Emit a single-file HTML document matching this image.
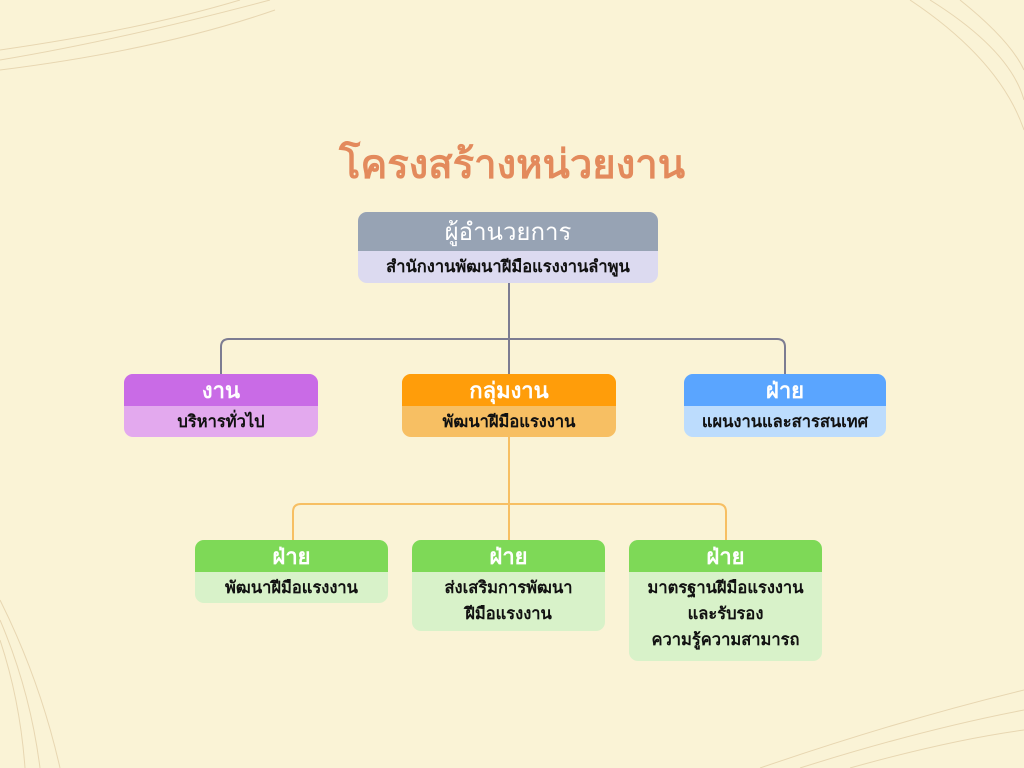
<!DOCTYPE html>
<html><head><meta charset="utf-8">
<style>
html,body{margin:0;padding:0;}
body{width:1024px;height:768px;background:#faf3d6;position:relative;overflow:hidden;font-family:"Liberation Sans","DejaVu Sans",sans-serif;}
.t{position:absolute;left:0;width:1024px;top:132px;text-align:center;font-size:40px;font-weight:bold;color:#e38a5c;}
.box{position:absolute;border-radius:9px;overflow:hidden;text-align:center;}
.h{color:#fff;font-weight:bold;font-size:22px;display:flex;align-items:center;justify-content:center;}
.l{color:#111;font-weight:bold;font-size:16.5px;line-height:26px;padding-top:3px;box-sizing:border-box;}
</style></head><body>
<svg width="1024" height="768" style="position:absolute;left:0;top:0">
<g stroke="#e3cfa8" stroke-width="1" fill="none" opacity="0.8">
<path d="M0 60 Q120 40 270 0"/><path d="M0 50 Q140 30 240 0"/><path d="M0 70 Q160 50 275 10"/>
<path d="M910 0 Q1000 60 1024 130"/><path d="M930 0 Q1010 50 1024 100"/><path d="M960 0 Q1010 40 1024 70"/>
<path d="M0 600 Q40 680 60 768"/><path d="M0 620 Q30 690 40 768"/><path d="M0 640 Q20 700 25 768"/>
<path d="M760 768 Q900 720 1024 690"/><path d="M800 768 Q920 730 1024 710"/><path d="M850 768 Q950 740 1024 730"/>
</g>
<path d="M509 283 V374" stroke="#7c7c92" stroke-width="2" fill="none"/>
<path d="M221 374 V347 Q221 339 229 339 H777 Q785 339 785 347 V374" stroke="#7c7c92" stroke-width="2" fill="none"/>
<path d="M509 437 V540" stroke="#f7bf63" stroke-width="2" fill="none"/>
<path d="M293 540 V512 Q293 504 301 504 H718 Q726 504 726 512 V540" stroke="#f7bf63" stroke-width="2" fill="none"/>
</svg>
<div class="t">โครงสร้างหน่วยงาน</div>

<div class="box" style="left:358px;top:212px;width:300px;height:71px;background:#dcdaf0">
<div class="h" style="height:39px;background:#97a3b4;font-weight:normal;font-size:24px">ผู้อำนวยการ</div>
<div class="l">สำนักงานพัฒนาฝีมือแรงงานลำพูน</div></div>

<div class="box" style="left:124px;top:374px;width:194px;height:63px;background:#e3a9ee">
<div class="h" style="height:32px;background:#c96be6">งาน</div>
<div class="l">บริหารทั่วไป</div></div>

<div class="box" style="left:402px;top:374px;width:214px;height:63px;background:#f7bf63">
<div class="h" style="height:32px;background:#ff9d0a">กลุ่มงาน</div>
<div class="l">พัฒนาฝีมือแรงงาน</div></div>

<div class="box" style="left:684px;top:374px;width:202px;height:63px;background:#bcdcfd">
<div class="h" style="height:32px;background:#5aa5ff">ฝ่าย</div>
<div class="l">แผนงานและสารสนเทศ</div></div>

<div class="box" style="left:195px;top:540px;width:193px;height:63px;background:#d8f2c9">
<div class="h" style="height:32px;background:#7ed957">ฝ่าย</div>
<div class="l">พัฒนาฝีมือแรงงาน</div></div>

<div class="box" style="left:412px;top:540px;width:193px;height:91px;background:#d8f2c9">
<div class="h" style="height:32px;background:#7ed957">ฝ่าย</div>
<div class="l">ส่งเสริมการพัฒนา<br>ฝีมือแรงงาน</div></div>

<div class="box" style="left:629px;top:540px;width:193px;height:121px;background:#d8f2c9">
<div class="h" style="height:32px;background:#7ed957">ฝ่าย</div>
<div class="l">มาตรฐานฝีมือแรงงาน<br>และรับรอง<br>ความรู้ความสามารถ</div></div>
</body></html>
